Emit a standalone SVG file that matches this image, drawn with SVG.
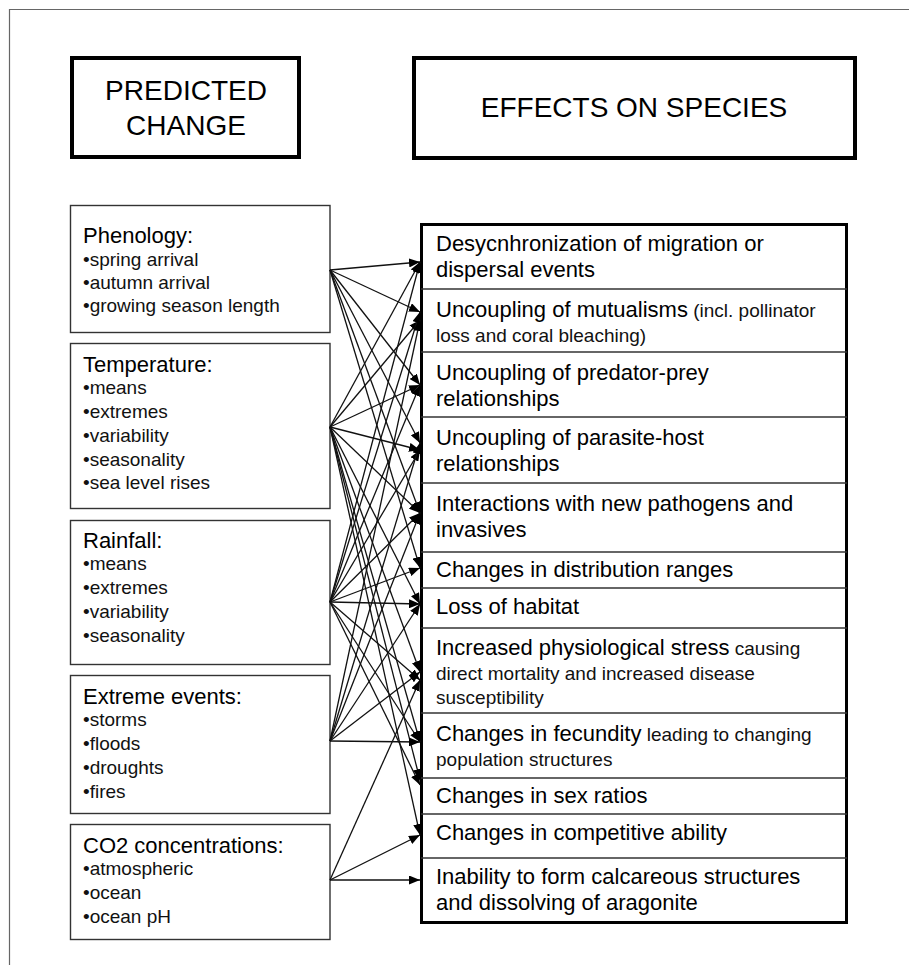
<svg xmlns="http://www.w3.org/2000/svg" width="909" height="965" viewBox="0 0 909 965">
<style>
  .frame{fill:none;stroke:#666;stroke-width:1.2}
  .hdr{fill:#fff;stroke:#000;stroke-width:4}
  .box{fill:#fff;stroke:#333;stroke-width:1.4}
  .big{fill:#fff;stroke:#000;stroke-width:3}
  .div{stroke:#333;stroke-width:1.4}
  text{font-family:"Liberation Sans",Arial,sans-serif;fill:#000}
  .h{font-size:28px}
  .t{font-size:22px}
  .i{font-size:19px;fill:#111}
  .m{font-size:22px}
  .s{font-size:19px;fill:#111}
  .c line{stroke:#111;stroke-width:1.3;marker-end:url(#ah)}
</style>
<defs>
  <marker id="ah" markerUnits="userSpaceOnUse" markerWidth="12" markerHeight="9" refX="11" refY="4.5" orient="auto">
    <path d="M0,0 L11,4.5 L0,9 z" fill="#000"/>
  </marker>
</defs>
<rect width="909" height="965" fill="#fff"/>
<path class="frame" d="M9.5,965 V9.5 H909"/>

<g id="hdr-predicted">
  <rect class="hdr" x="72" y="58" width="227" height="99"/>
  <text class="h" x="186" y="100" text-anchor="middle">PREDICTED</text>
  <text class="h" x="186" y="135" text-anchor="middle">CHANGE</text>
</g>
<g id="hdr-effects">
  <rect class="hdr" x="414" y="58" width="441" height="100"/>
  <text class="h" x="634" y="117" text-anchor="middle">EFFECTS ON SPECIES</text>
</g>

<g id="phenology">
  <rect class="box" x="70.5" y="205.5" width="259.5" height="127"/>
  <text class="t" x="83" y="243">Phenology:</text>
  <text class="i" x="83" y="266">•spring arrival</text>
  <text class="i" x="83" y="289">•autumn arrival</text>
  <text class="i" x="83" y="312">•growing season length</text>
</g>
<g id="temperature">
  <rect class="box" x="70.5" y="343.5" width="259.5" height="165"/>
  <text class="t" x="83" y="372">Temperature:</text>
  <text class="i" x="83" y="394">•means</text>
  <text class="i" x="83" y="418">•extremes</text>
  <text class="i" x="83" y="442">•variability</text>
  <text class="i" x="83" y="466">•seasonality</text>
  <text class="i" x="83" y="489">•sea level rises</text>
</g>
<g id="rainfall">
  <rect class="box" x="70.5" y="520.5" width="259.5" height="144"/>
  <text class="t" x="83" y="548">Rainfall:</text>
  <text class="i" x="83" y="570">•means</text>
  <text class="i" x="83" y="594">•extremes</text>
  <text class="i" x="83" y="618">•variability</text>
  <text class="i" x="83" y="642">•seasonality</text>
</g>
<g id="extreme">
  <rect class="box" x="70.5" y="675.5" width="259.5" height="138"/>
  <text class="t" x="83" y="704">Extreme events:</text>
  <text class="i" x="83" y="726">•storms</text>
  <text class="i" x="83" y="750">•floods</text>
  <text class="i" x="83" y="774">•droughts</text>
  <text class="i" x="83" y="798">•fires</text>
</g>
<g id="co2">
  <rect class="box" x="70.5" y="824.5" width="259.5" height="115"/>
  <text class="t" x="83" y="853">CO2 concentrations:</text>
  <text class="i" x="83" y="875">•atmospheric</text>
  <text class="i" x="83" y="899">•ocean</text>
  <text class="i" x="83" y="923">•ocean pH</text>
</g>

<g id="effects">
  <rect class="big" x="421.5" y="224.5" width="425" height="698"/>
  <line class="div" x1="421" y1="289" x2="847" y2="289"/>
  <line class="div" x1="421" y1="352" x2="847" y2="352"/>
  <line class="div" x1="421" y1="417" x2="847" y2="417"/>
  <line class="div" x1="421" y1="483" x2="847" y2="483"/>
  <line class="div" x1="421" y1="552" x2="847" y2="552"/>
  <line class="div" x1="421" y1="588" x2="847" y2="588"/>
  <line class="div" x1="421" y1="628" x2="847" y2="628"/>
  <line class="div" x1="421" y1="713" x2="847" y2="713"/>
  <line class="div" x1="421" y1="778" x2="847" y2="778"/>
  <line class="div" x1="421" y1="814" x2="847" y2="814"/>
  <line class="div" x1="421" y1="858" x2="847" y2="858"/>
  <text class="m" x="436" y="251">Desycnhronization of migration or</text>
  <text class="m" x="436" y="277">dispersal events</text>
  <text class="m" x="436" y="317">Uncoupling of mutualisms<tspan class="s"> (incl. pollinator</tspan></text>
  <text class="s" x="436" y="342">loss and coral bleaching)</text>
  <text class="m" x="436" y="380">Uncoupling of predator-prey</text>
  <text class="m" x="436" y="406">relationships</text>
  <text class="m" x="436" y="445">Uncoupling of parasite-host</text>
  <text class="m" x="436" y="471">relationships</text>
  <text class="m" x="436" y="511">Interactions with new pathogens and</text>
  <text class="m" x="436" y="537">invasives</text>
  <text class="m" x="436" y="577">Changes in distribution ranges</text>
  <text class="m" x="436" y="614">Loss of habitat</text>
  <text class="m" x="436" y="655">Increased physiological stress<tspan class="s"> causing</tspan></text>
  <text class="s" x="436" y="680">direct mortality and increased disease</text>
  <text class="s" x="436" y="704">susceptibility</text>
  <text class="m" x="436" y="741">Changes in fecundity<tspan class="s"> leading to changing</tspan></text>
  <text class="s" x="436" y="766">population structures</text>
  <text class="m" x="436" y="803">Changes in sex ratios</text>
  <text class="m" x="436" y="840">Changes in competitive ability</text>
  <text class="m" x="436" y="884">Inability to form calcareous structures</text>
  <text class="m" x="436" y="910">and dissolving of aragonite</text>
</g>

<g id="connectors" class="c">
  <line x1="330" y1="270" x2="420" y2="262"/>
  <line x1="330" y1="270" x2="420" y2="312"/>
  <line x1="330" y1="270" x2="420" y2="385"/>
  <line x1="330" y1="270" x2="420" y2="443"/>
  <line x1="330" y1="270" x2="420" y2="513"/>
  <line x1="330" y1="270" x2="420" y2="568"/>

  <line x1="330" y1="427" x2="420" y2="262"/>
  <line x1="330" y1="427" x2="420" y2="320"/>
  <line x1="330" y1="427" x2="420" y2="385"/>
  <line x1="330" y1="427" x2="420" y2="450"/>
  <line x1="330" y1="427" x2="420" y2="513"/>
  <line x1="330" y1="427" x2="420" y2="604"/>
  <line x1="330" y1="427" x2="420" y2="672"/>
  <line x1="330" y1="427" x2="420" y2="742"/>
  <line x1="330" y1="427" x2="420" y2="780"/>
  <line x1="330" y1="427" x2="420" y2="835"/>

  <line x1="330" y1="602" x2="420" y2="262"/>
  <line x1="330" y1="602" x2="420" y2="312"/>
  <line x1="330" y1="602" x2="420" y2="385"/>
  <line x1="330" y1="602" x2="420" y2="450"/>
  <line x1="330" y1="602" x2="420" y2="513"/>
  <line x1="330" y1="602" x2="420" y2="568"/>
  <line x1="330" y1="602" x2="420" y2="604"/>
  <line x1="330" y1="602" x2="420" y2="680"/>
  <line x1="330" y1="602" x2="420" y2="742"/>
  <line x1="330" y1="602" x2="420" y2="785"/>

  <line x1="330" y1="741" x2="420" y2="320"/>
  <line x1="330" y1="741" x2="420" y2="443"/>
  <line x1="330" y1="741" x2="420" y2="513"/>
  <line x1="330" y1="741" x2="420" y2="604"/>
  <line x1="330" y1="741" x2="420" y2="672"/>
  <line x1="330" y1="741" x2="420" y2="742"/>

  <line x1="330" y1="880" x2="420" y2="680"/>
  <line x1="330" y1="880" x2="420" y2="835"/>
  <line x1="330" y1="880" x2="420" y2="880"/>
</g>
</svg>
